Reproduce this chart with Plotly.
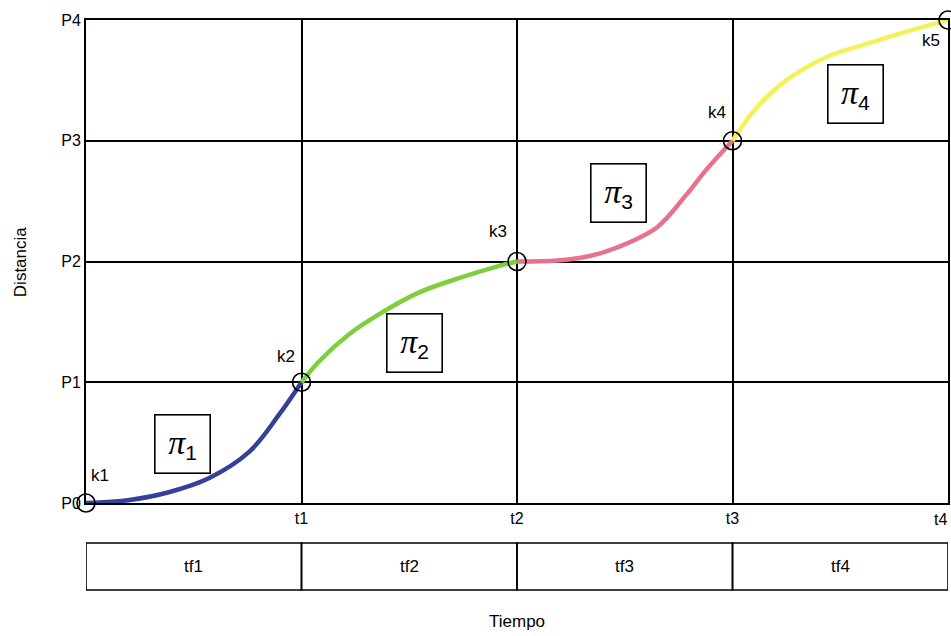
import plotly.graph_objects as go

# Knots
knot_t = [0, 1, 2, 3, 4]
knot_p = [0, 1, 2, 3, 4]
knot_labels = ["k1", "k2", "k3", "k4", "k5"]

# Axis tick labels
x_ticks = ["", "t1", "t2", "t3", "t4"]
y_ticks = ["P0", "P1", "P2", "P3", "P4"]
interval_labels = ["tf1", "tf2", "tf3", "tf4"]
segment_labels = ["1", "2", "3", "4"]

# Segment curves
seg1_x = [0, 0.203, 0.388, 0.572, 0.757, 0.895, 1]
seg1_y = [0, 0.025, 0.091, 0.207, 0.423, 0.729, 1]
seg2_x = [1, 1.08, 1.218, 1.357, 1.541, 1.726, 1.91, 2]
seg2_y = [1, 1.17, 1.394, 1.56, 1.74, 1.86, 1.96, 2]
seg3_x = [2, 2.187, 2.326, 2.464, 2.649, 2.787, 2.88, 3]
seg3_y = [2, 2.008, 2.041, 2.116, 2.282, 2.556, 2.763, 3]
seg4_x = [3, 3.11, 3.249, 3.433, 3.618, 3.80, 3.94, 4]
seg4_y = [3, 3.27, 3.50, 3.69, 3.80, 3.90, 3.97, 4]

seg_colors = ["#35409a", "#7fcf3c", "#e8728c", "#f4f25a"]

# Label positions for the pi boxes
pi_x = [0.447, 1.523, 2.472, 3.572]
pi_y = [0.489, 1.321, 2.571, 3.391]

FONT = "Liberation Sans, Arial"

fig = go.Figure()
segs = [(seg1_x, seg1_y), (seg2_x, seg2_y), (seg3_x, seg3_y), (seg4_x, seg4_y)]
for (sx, sy), c in zip(segs, seg_colors):
    fig.add_trace(go.Scatter(x=sx, y=sy, mode="lines",
                             line=dict(color=c, width=4.5, shape="spline", smoothing=1.0),
                             hoverinfo="skip", showlegend=False))

fig.add_trace(go.Scatter(x=knot_t, y=knot_p, mode="markers",
                         marker=dict(symbol="circle-open", size=18, color="black",
                                     line=dict(color="black", width=1.6)),
                         showlegend=False, cliponaxis=False))

# knot labels (pixel offsets: right, down)
k_off = [(14, -28), (-16, -26), (-19, -30), (-16, -28), (-17, 20)]
ann = []
for t, p, lab, (dx, dy) in zip(knot_t, knot_p, knot_labels, k_off):
    ann.append(dict(x=t, y=p, xref="x", yref="y", text=lab, showarrow=False,
                    xshift=dx, yshift=-dy, xanchor="center", yanchor="middle",
                    font=dict(family=FONT, size=17, color="black")))

# last time tick label, kept inside the page at the right edge
ann.append(dict(x=knot_t[-1], y=0, xref="x", yref="paper", text=x_ticks[-1],
                showarrow=False, xanchor="right", yanchor="top", yshift=-6, xshift=1,
                font=dict(family=FONT, size=16, color="black")))

# pi boxes
for x, y, s in zip(pi_x, pi_y, segment_labels):
    ann.append(dict(x=x, y=y, xref="x", yref="y",
                    text=("<span style='font-family:Liberation Serif;font-style:italic;font-size:34px'>π</span>"
                          "<sub>" + s + "</sub>"),
                    showarrow=False, width=50, height=53, borderpad=2,
                    xanchor="center", yanchor="middle",
                    bordercolor="black", borderwidth=1.6, bgcolor="white",
                    font=dict(family=FONT, size=30, color="black")))

# interval boxes
box_top = (503 - 543) / 483
box_bot = (503 - 590) / 483
shapes = []
for i in range(4):
    shapes.append(dict(type="rect", xref="x", yref="paper", x0=knot_t[i], x1=knot_t[i + 1],
                       y0=box_bot, y1=box_top, line=dict(color="black", width=1.6)))
    ann.append(dict(x=(knot_t[i] + knot_t[i + 1]) / 2, y=(box_top + box_bot) / 2,
                    xref="x", yref="paper", text=interval_labels[i], showarrow=False,
                    xanchor="center", yanchor="middle",
                    font=dict(family=FONT, size=17, color="black")))

ann.append(dict(x=2, y=(503 - 621) / 483, xref="x", yref="paper", text="Tiempo",
                showarrow=False, xanchor="center", yanchor="middle",
                font=dict(family=FONT, size=17, color="black")))
ann.append(dict(x=(20 - 86) / 864, y=(503 - 262) / 483, xref="paper", yref="paper",
                text="Distancia", showarrow=False, textangle=-90,
                xanchor="center", yanchor="middle",
                font=dict(family=FONT, size=17, color="black")))

fig.update_layout(
    width=951, height=636,
    margin=dict(l=86, r=1, t=20, b=133),
    paper_bgcolor="white", plot_bgcolor="white",
    annotations=ann, shapes=shapes,
    xaxis=dict(range=[0, 4], tickvals=knot_t[:-1], ticktext=x_ticks[:-1], showgrid=True,
               gridcolor="black", gridwidth=2, zeroline=False, showline=True,
               linecolor="black", linewidth=2, mirror=True, ticks="",
               tickfont=dict(family=FONT, size=16, color="black")),
    yaxis=dict(range=[0, 4], tickvals=knot_p, ticktext=y_ticks, showgrid=True,
               gridcolor="black", gridwidth=2, zeroline=False, showline=True,
               linecolor="black", linewidth=2, mirror=True, ticks="",
               tickfont=dict(family=FONT, size=16, color="black")),
)

fig.write_html("out.html", config={"displayModeBar": False},
               post_script="document.body.style.margin='0';document.body.style.padding='0';")
